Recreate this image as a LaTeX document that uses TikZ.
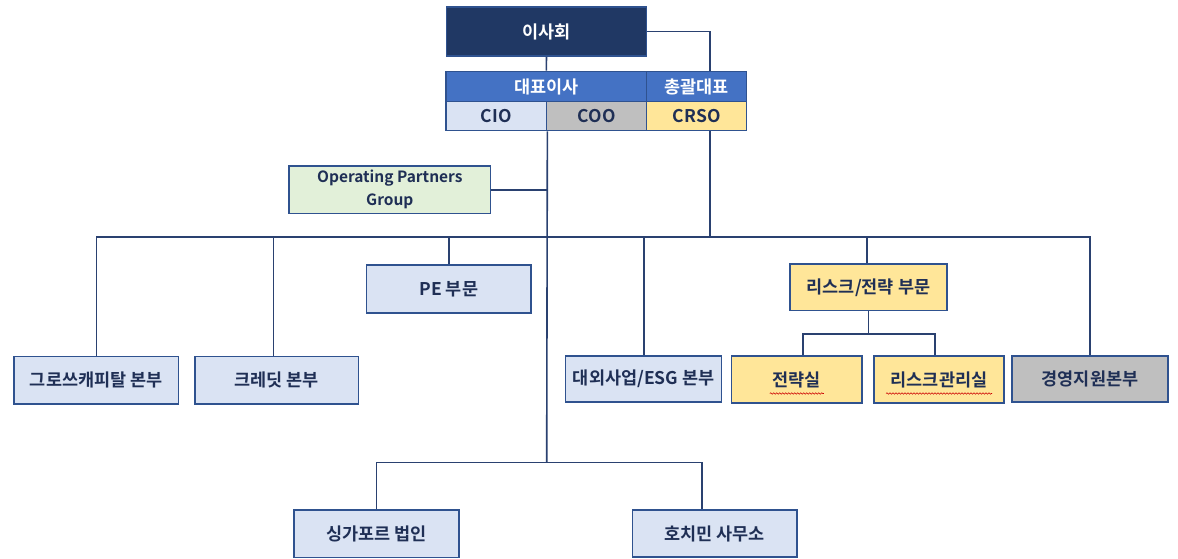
\documentclass[tikz,border=0pt]{standalone}
\usepackage{fontspec}
\newfontfamily\korfont{Noto Sans CJK KR}[BoldFont={Noto Sans CJK KR Bold}]
\usetikzlibrary{calc,decorations.pathmorphing}
\definecolor{navyfill}{HTML}{203864}
\definecolor{bluefill}{HTML}{4472C4}
\definecolor{bordc}{HTML}{2F528F}
\definecolor{linec}{HTML}{2A4170}
\definecolor{textc}{HTML}{1F2F55}
\definecolor{paleblue}{HTML}{DAE3F3}
\definecolor{palegray}{HTML}{BFBFBF}
\definecolor{paleyellow}{HTML}{FFE699}
\definecolor{palegreen}{HTML}{E2F0D9}
\tikzset{
  unit/.style={draw=bordc, line width=1.4pt, font=\korfont\bfseries\fontsize{17.5}{19}\selectfont,
    text=textc, inner sep=0pt, align=center},
  bluebox/.style={unit, fill=paleblue},
  graybox/.style={unit, fill=palegray},
  yellowbox/.style={unit, fill=paleyellow},
  greenbox/.style={unit, fill=palegreen},
  link/.style={draw=linec, line width=1.6pt},
  spell/.style={draw=red!80!black, line width=0.6pt, decorate,
    decoration={snake, amplitude=0.7pt, segment length=3pt}}
}
\begin{document}
\begin{tikzpicture}[x=1pt, y=-1pt]
  %%%%% START %%%%%
  \useasboundingbox (0,0) rectangle (1178,559);

  % top
  \node[unit, fill=navyfill, text=white, minimum width=200pt, minimum height=49pt] (board) at (546.5, 31.6) {이사회};
  \node[unit, fill=bluefill, text=white, minimum width=200.7pt, minimum height=30.4pt] (ceo) at (546.3, 86.5) {대표이사};
  \node[unit, fill=bluefill, text=white, minimum width=100pt, minimum height=30.4pt] (chief) at (696.7, 86.5) {총괄대표};
  \node[bluebox, minimum width=100.7pt, minimum height=29pt] (cio) at (496.3, 116.2) {CIO};
  \node[graybox, minimum width=100pt, minimum height=29pt] (coo) at (596.7, 116.2) {COO};
  \node[yellowbox, minimum width=100pt, minimum height=29pt] (crso) at (696.7, 116.2) {CRSO};

  \node[greenbox, font=\korfont\bfseries\fontsize{15.5}{23}\selectfont, minimum width=201.7pt, minimum height=47.3pt] (opg) at (389.8, 189.7) {Operating Partners\\Group};

  % middle row
  \node[bluebox, minimum width=164.3pt, minimum height=48pt] (pe) at (448.8, 289) {PE 부문};
  \node[yellowbox, minimum width=157pt, minimum height=46.7pt] (risk) at (868.5, 287.3) {리스크/전략 부문};

  % lower row
  \node[bluebox, minimum width=164.7pt, minimum height=47.3pt] (growth) at (96.3, 380.3) {그로쓰캐피탈 본부};
  \node[bluebox, minimum width=163.7pt, minimum height=47.3pt] (credit) at (276.8, 380.3) {크레딧 본부};
  \node[bluebox, minimum width=156pt, minimum height=46pt] (extern) at (643.7, 379) {대외사업/ESG 본부};
  \node[yellowbox, minimum width=130.3pt, minimum height=47pt] (strat) at (796.8, 379.5) {전략실};
  \node[yellowbox, minimum width=130pt, minimum height=47pt] (riskmgmt) at (939, 379.5) {리스크관리실};
  \node[graybox, minimum width=156pt, minimum height=46pt] (mgmt) at (1090, 379) {경영지원본부};

  % bottom row
  \node[bluebox, minimum width=165pt, minimum height=47.7pt] (sing) at (376.5, 533.8) {싱가포르 법인};
  \node[bluebox, minimum width=164.3pt, minimum height=47pt] (hcm) at (714.8, 533.5) {호치민 사무소};

  % bus points
  \coordinate (bus) at (546.7, 237);
  \coordinate (split) at (546.7, 462.3);
  \coordinate (subbus) at (868.5, 334);

  % connectors
  \draw[link] (board.south) -- (ceo.north);
  \draw[link] (board.east) -| ([xshift=13pt]chief.north);
  \draw[link] (cio.south east) -- (split);
  \draw[link] ([xshift=13pt]crso.south) -- ([xshift=13pt]crso.south |- bus);
  \draw[link] (opg.east) -- (opg.east -| cio.south east);
  \draw[link] (growth.north) |- (bus) -| (mgmt.north);
  \draw[link] ([xshift=-3.5pt]credit.north) -- ([xshift=-3.5pt]credit.north |- bus);
  \draw[link] (pe.north) -- (pe.north |- bus);
  \draw[link] (extern.north) -- (extern.north |- bus);
  \draw[link] ([xshift=-1.8pt]risk.north) -- ([xshift=-1.8pt]risk.north |- bus);
  \draw[link] (risk.south) -- (subbus);
  \draw[link] ([xshift=6pt]strat.north) |- (subbus) -| ([xshift=-4pt]riskmgmt.north);
  \draw[link] (sing.north) |- (split) -| ([xshift=-13pt]hcm.north);

  % spell check marks
  \draw[spell] ($(strat.center)+(-27,14)$) -- ($(strat.center)+(27,14)$);
  \draw[spell] ($(riskmgmt.center)+(-53,14)$) -- ($(riskmgmt.center)+(53,14)$);
  %%%%% END %%%%%
\end{tikzpicture}
\end{document}
